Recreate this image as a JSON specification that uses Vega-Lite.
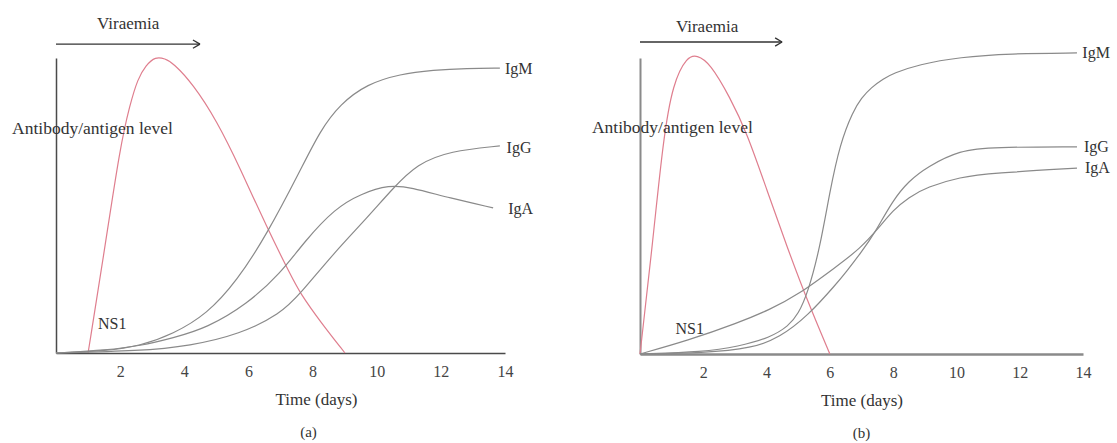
{
  "$schema": "https://vega.github.io/schema/vega-lite/v6.json",
  "background": "white",
  "padding": {"left": 12, "top": 15, "right": 5, "bottom": 5},
  "bounds": "flush",
  "spacing": 135,
  "config": {
    "view": {"stroke": null},
    "font": "Liberation Serif",
    "axis": {"labelFont": "Liberation Serif", "titleFont": "Liberation Serif"},
    "title": {"font": "Liberation Serif"}
  },
  "datasets": {
    "a_curves": [
      {"series": "NS1", "day": 1.0, "level": 0},
      {"series": "NS1", "day": 1.5, "level": 34},
      {"series": "NS1", "day": 2.0, "level": 70},
      {"series": "NS1", "day": 2.3, "level": 84},
      {"series": "NS1", "day": 2.55, "level": 93},
      {"series": "NS1", "day": 2.8, "level": 97.5},
      {"series": "NS1", "day": 3.1, "level": 100.5},
      {"series": "NS1", "day": 3.4, "level": 99.8},
      {"series": "NS1", "day": 3.65, "level": 98.3},
      {"series": "NS1", "day": 4.27, "level": 91.2},
      {"series": "NS1", "day": 5.02, "level": 78.6},
      {"series": "NS1", "day": 5.74, "level": 62.7},
      {"series": "NS1", "day": 6.58, "level": 42.4},
      {"series": "NS1", "day": 7.3, "level": 26.8},
      {"series": "NS1", "day": 7.61, "level": 20.3},
      {"series": "NS1", "day": 8.23, "level": 10.8},
      {"series": "NS1", "day": 9.01, "level": 0},
      {"series": "IgM", "day": 0, "level": 0},
      {"series": "IgM", "day": 1.59, "level": 0.7},
      {"series": "IgM", "day": 2.62, "level": 2.4},
      {"series": "IgM", "day": 3.65, "level": 6.4},
      {"series": "IgM", "day": 4.71, "level": 13.2},
      {"series": "IgM", "day": 5.64, "level": 24.4},
      {"series": "IgM", "day": 6.58, "level": 40.3},
      {"series": "IgM", "day": 7.61, "level": 61.7},
      {"series": "IgM", "day": 8.23, "level": 75.3},
      {"series": "IgM", "day": 8.86, "level": 84.4},
      {"series": "IgM", "day": 9.7, "level": 91.2},
      {"series": "IgM", "day": 10.73, "level": 94.6},
      {"series": "IgM", "day": 11.76, "level": 95.9},
      {"series": "IgM", "day": 12.82, "level": 96.5},
      {"series": "IgM", "day": 13.84, "level": 96.6},
      {"series": "IgA", "day": 0, "level": 0},
      {"series": "IgA", "day": 1.6, "level": 1},
      {"series": "IgA", "day": 2.62, "level": 2.4},
      {"series": "IgA", "day": 3.65, "level": 5.1},
      {"series": "IgA", "day": 4.71, "level": 8.5},
      {"series": "IgA", "day": 5.96, "level": 16.6},
      {"series": "IgA", "day": 6.99, "level": 26.8},
      {"series": "IgA", "day": 7.76, "level": 38},
      {"series": "IgA", "day": 8.7, "level": 49},
      {"series": "IgA", "day": 9.5, "level": 54},
      {"series": "IgA", "day": 10.41, "level": 57},
      {"series": "IgA", "day": 11.04, "level": 56.2},
      {"series": "IgA", "day": 12.29, "level": 52.5},
      {"series": "IgA", "day": 13.63, "level": 49.2},
      {"series": "IgG", "day": 0, "level": 0},
      {"series": "IgG", "day": 2.62, "level": 0.7},
      {"series": "IgG", "day": 4.18, "level": 2.4},
      {"series": "IgG", "day": 5.74, "level": 6.4},
      {"series": "IgG", "day": 6.99, "level": 13.2},
      {"series": "IgG", "day": 7.61, "level": 20},
      {"series": "IgG", "day": 8.64, "level": 33.6},
      {"series": "IgG", "day": 9.7, "level": 45.8},
      {"series": "IgG", "day": 10.51, "level": 55.9},
      {"series": "IgG", "day": 11.26, "level": 64.1},
      {"series": "IgG", "day": 12.29, "level": 68.5},
      {"series": "IgG", "day": 13.84, "level": 70.2}
    ],
    "b_curves": [
      {"series": "NS1", "day": 0, "level": 0},
      {"series": "NS1", "day": 0.41, "level": 38.5},
      {"series": "NS1", "day": 0.73, "level": 72.3},
      {"series": "NS1", "day": 1.04, "level": 91.6},
      {"series": "NS1", "day": 1.49, "level": 100.5},
      {"series": "NS1", "day": 1.8, "level": 101},
      {"series": "NS1", "day": 2.21, "level": 98.3},
      {"series": "NS1", "day": 2.84, "level": 86.8},
      {"series": "NS1", "day": 3.38, "level": 74.7},
      {"series": "NS1", "day": 4.01, "level": 55.4},
      {"series": "NS1", "day": 4.65, "level": 36.1},
      {"series": "NS1", "day": 5.28, "level": 18.2},
      {"series": "NS1", "day": 6.0, "level": 0},
      {"series": "IgM", "day": 0, "level": 0},
      {"series": "IgM", "day": 2.0, "level": 0.7},
      {"series": "IgM", "day": 3.1, "level": 2.5},
      {"series": "IgM", "day": 4.11, "level": 5.5},
      {"series": "IgM", "day": 4.7, "level": 9.5},
      {"series": "IgM", "day": 5.0, "level": 13.5},
      {"series": "IgM", "day": 5.3, "level": 20.5},
      {"series": "IgM", "day": 5.69, "level": 36},
      {"series": "IgM", "day": 6.0, "level": 55},
      {"series": "IgM", "day": 6.32, "level": 71},
      {"series": "IgM", "day": 6.73, "level": 82},
      {"series": "IgM", "day": 7.0, "level": 86.5},
      {"series": "IgM", "day": 7.3, "level": 90},
      {"series": "IgM", "day": 7.7, "level": 93},
      {"series": "IgM", "day": 8.0, "level": 94.8},
      {"series": "IgM", "day": 8.8, "level": 97.8},
      {"series": "IgM", "day": 10.11, "level": 100.3},
      {"series": "IgM", "day": 11.69, "level": 101.5},
      {"series": "IgM", "day": 13.81, "level": 101.7},
      {"series": "IgA", "day": 0, "level": 0},
      {"series": "IgA", "day": 1.5, "level": 4.5},
      {"series": "IgA", "day": 3.1, "level": 10.5},
      {"series": "IgA", "day": 4.1, "level": 15},
      {"series": "IgA", "day": 5.0, "level": 20},
      {"series": "IgA", "day": 6.2, "level": 29.5},
      {"series": "IgA", "day": 6.95, "level": 35.5},
      {"series": "IgA", "day": 7.58, "level": 43},
      {"series": "IgA", "day": 7.99, "level": 48.5},
      {"series": "IgA", "day": 8.5, "level": 53},
      {"series": "IgA", "day": 9.07, "level": 56.4},
      {"series": "IgA", "day": 10.11, "level": 59.8},
      {"series": "IgA", "day": 11.16, "level": 61.1},
      {"series": "IgA", "day": 13.81, "level": 62.8},
      {"series": "IgG", "day": 0, "level": 0},
      {"series": "IgG", "day": 2.0, "level": 0.3},
      {"series": "IgG", "day": 3.57, "level": 2},
      {"series": "IgG", "day": 4.4, "level": 5.5},
      {"series": "IgG", "day": 5.3, "level": 12.8},
      {"series": "IgG", "day": 6.23, "level": 24},
      {"series": "IgG", "day": 6.5, "level": 27.5},
      {"series": "IgG", "day": 7.0, "level": 34.5},
      {"series": "IgG", "day": 7.4, "level": 40.5},
      {"series": "IgG", "day": 7.99, "level": 52},
      {"series": "IgG", "day": 8.5, "level": 58.5},
      {"series": "IgG", "day": 9.07, "level": 63.2},
      {"series": "IgG", "day": 10.11, "level": 68.9},
      {"series": "IgG", "day": 11.16, "level": 69.9},
      {"series": "IgG", "day": 13.81, "level": 70}
    ],
    "a_arrows": [
      {"day": 0, "level": 104.7, "day2": 4.49, "level2": 104.7},
      {"day": 4.27, "level": 106.1, "day2": 4.49, "level2": 104.7},
      {"day": 4.27, "level": 103.3, "day2": 4.49, "level2": 104.7}
    ],
    "b_arrows": [
      {"day": 0, "level": 105.4, "day2": 4.49, "level2": 105.4},
      {"day": 4.27, "level": 106.8, "day2": 4.49, "level2": 105.4},
      {"day": 4.27, "level": 104.0, "day2": 4.49, "level2": 105.4}
    ],
    "a_labels": [
      {"label": "IgM", "day": 14.0, "level": 96.3},
      {"label": "IgG", "day": 14.05, "level": 69.5},
      {"label": "IgA", "day": 14.1, "level": 48.8},
      {"label": "NS1", "day": 1.31, "level": 9.8}
    ],
    "b_labels": [
      {"label": "IgM", "day": 13.98, "level": 101.7},
      {"label": "IgG", "day": 14.03, "level": 69.9},
      {"label": "IgA", "day": 14.06, "level": 62.8},
      {"label": "NS1", "day": 1.12, "level": 8.5}
    ],
    "a_ytitle": [{"label": "Antibody/antigen level", "day": -1.37, "level": 75.9}],
    "b_ytitle": [{"label": "Antibody/antigen level", "day": -1.52, "level": 76.4}],
    "a_top": [{"label": "Viraemia", "day": 2.25, "level": 111.5}],
    "b_top": [{"label": "Viraemia", "day": 2.12, "level": 110.5}]
  },
  "hconcat": [
    {
      "width": 449,
      "height": 295,
      "title": {"text": "(a)", "orient": "bottom", "anchor": "middle", "dx": 28, "offset": 18, "fontSize": 15, "fontWeight": "normal", "color": "#333333"},
      "encoding": {
        "x": {"field": "day", "type": "quantitative", "scale": {"domain": [0, 14], "nice": false, "zero": false},
          "axis": {"values": [2, 4, 6, 8, 10, 12, 14], "ticks": false, "grid": false, "domainColor": "#4a4a4a", "domainWidth": 1.5,
            "labelFontSize": 16, "labelColor": "#444444", "labelPadding": 10, "labelFlush": false,
            "title": "Time (days)", "titleFontSize": 17, "titleFontWeight": "normal", "titleColor": "#333333", "titlePadding": 12, "titleX": 260}},
        "y": {"field": "level", "type": "quantitative", "scale": {"domain": [0, 100], "nice": false, "zero": false},
          "axis": {"labels": false, "ticks": false, "grid": false, "title": null, "domainColor": "#4a4a4a", "domainWidth": 1.5}}
      },
      "layer": [
        {"data": {"name": "a_curves"}, "mark": {"type": "line", "interpolate": "basis", "strokeWidth": 1.2},
          "encoding": {"color": {"field": "series", "type": "nominal", "legend": null,
            "scale": {"domain": ["NS1", "IgM", "IgG", "IgA"], "range": ["#df7e8e", "#8a8a8a", "#8a8a8a", "#8a8a8a"]}}}},
        {"data": {"name": "a_arrows"}, "mark": {"type": "rule", "color": "#333333", "strokeWidth": 1.3},
          "encoding": {"x2": {"field": "day2"}, "y2": {"field": "level2"}}},
        {"data": {"name": "a_labels"}, "mark": {"type": "text", "align": "left", "baseline": "middle", "fontSize": 16, "color": "#333333"},
          "encoding": {"text": {"field": "label", "type": "nominal"}}},
        {"data": {"name": "a_ytitle"}, "mark": {"type": "text", "align": "left", "baseline": "middle", "fontSize": 17.5, "color": "#333333"},
          "encoding": {"text": {"field": "label", "type": "nominal"}}},
        {"data": {"name": "a_top"}, "mark": {"type": "text", "align": "center", "baseline": "middle", "fontSize": 17, "color": "#333333"},
          "encoding": {"text": {"field": "label", "type": "nominal"}}}
      ]
    },
    {
      "width": 443,
      "height": 296,
      "title": {"text": "(b)", "orient": "bottom", "anchor": "middle", "offset": 18, "fontSize": 15, "fontWeight": "normal", "color": "#333333"},
      "encoding": {
        "x": {"field": "day", "type": "quantitative", "scale": {"domain": [0, 14], "nice": false, "zero": false},
          "axis": {"values": [2, 4, 6, 8, 10, 12, 14], "ticks": false, "grid": false, "domainColor": "#8a8a8a", "domainWidth": 2.5,
            "labelFontSize": 16, "labelColor": "#444444", "labelPadding": 10, "labelFlush": false,
            "title": "Time (days)", "titleFontSize": 17, "titleFontWeight": "normal", "titleColor": "#333333", "titlePadding": 12}},
        "y": {"field": "level", "type": "quantitative", "scale": {"domain": [0, 100], "nice": false, "zero": false},
          "axis": {"labels": false, "ticks": false, "grid": false, "title": null, "domainColor": "#8a8a8a", "domainWidth": 2}}
      },
      "layer": [
        {"data": {"name": "b_curves"}, "mark": {"type": "line", "interpolate": "basis", "strokeWidth": 1.2},
          "encoding": {"color": {"field": "series", "type": "nominal", "legend": null,
            "scale": {"domain": ["NS1", "IgM", "IgG", "IgA"], "range": ["#df7e8e", "#8a8a8a", "#8a8a8a", "#8a8a8a"]}}}},
        {"data": {"name": "b_arrows"}, "mark": {"type": "rule", "color": "#333333", "strokeWidth": 1.3},
          "encoding": {"x2": {"field": "day2"}, "y2": {"field": "level2"}}},
        {"data": {"name": "b_labels"}, "mark": {"type": "text", "align": "left", "baseline": "middle", "fontSize": 16, "color": "#333333"},
          "encoding": {"text": {"field": "label", "type": "nominal"}}},
        {"data": {"name": "b_ytitle"}, "mark": {"type": "text", "align": "left", "baseline": "middle", "fontSize": 17.5, "color": "#333333"},
          "encoding": {"text": {"field": "label", "type": "nominal"}}},
        {"data": {"name": "b_top"}, "mark": {"type": "text", "align": "center", "baseline": "middle", "fontSize": 17, "color": "#333333"},
          "encoding": {"text": {"field": "label", "type": "nominal"}}}
      ]
    }
  ]
}
